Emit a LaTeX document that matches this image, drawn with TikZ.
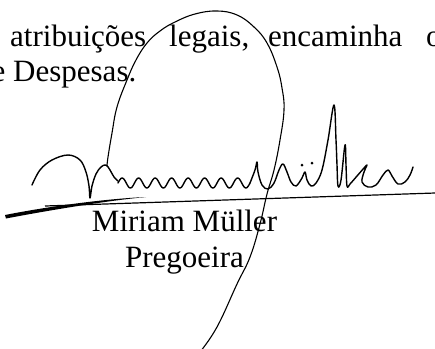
\documentclass[tikz,border=0pt]{standalone}
\usepackage{fontspec}
\setmainfont{Liberation Serif}
\begin{document}
\begin{tikzpicture}[x=1bp,y=-1bp,
  doc/.style={inner sep=0pt,font=\fontsize{31bp}{35bp}\selectfont},
  pen/.style={black,line width=1.4bp,line cap=round,line join=round},
  rubric/.style={black,line width=1.1bp,line cap=round}]
\useasboundingbox (0,0) rectangle (435,348);
\fill [white] (0,0) rectangle (435,348);
\node [doc,anchor=base west] (atrib) at (10,46) {atribuições};
\node [doc,anchor=base west] (legais) at (169,46) {legais,};
\node [doc,anchor=base west] (encam) at (268,46) {encaminha};
\node [doc,anchor=base west] (o) at (426,46) {o};
\node [doc,anchor=base west] (desp) at (-8.5,81) {e Despesas.};
\node [doc,anchor=base] (nome) at (184.5,231) {Miriam Müller};
\node [doc,anchor=base] (cargo) at (184.5,267) {Pregoeira};
\fill [black] (5,215) .. controls (40,208) and (100,199) .. (146,197) .. controls (100,201.5) and (40,212) .. (6,218.5) -- cycle;
\draw [black,line width=1.2bp] (45,206) -- (435,193);
\draw [pen] plot [smooth,tension=0.6] coordinates {(32,185) (40,170) (52,160) (68,155) (80,160) (86,172) (89,186) (90,198) (92,186) (96,174) (101,167) (106,165) (110,170) (114,177) (118,181)};
\draw [pen] plot [domain=0:132,samples=140] ({118+\x},{183-5*sin(21.818*\x)});
\draw [pen] plot [smooth,tension=0.6] coordinates {(250,183) (255,170) (257,162) (258,172) (262,185) (268,189) (274,183) (279,170) (283,164) (287,172) (291,182) (296,186) (302,178) (305,172) (307,180) (311,186) (316,183) (322,170) (328,140) (334,105) (336,140) (337,165) (338,186) (341,180) (345,145) (346,165) (347,186) (350,184) (357,176) (364,168) (367,165) (364,172) (362,182) (368,187) (376,185) (383,175) (388,170) (392,176) (398,184) (405,182) (410,175) (413,167)};
\fill [black] (302,165) circle (1.5);
\fill [black] (312,163) circle (1.5);
\draw [rubric] plot [smooth,tension=0.7] coordinates {(200,352) (217,327) (237,284) (250,257) (260,224) (267,194) (274,170) (280,140) (284,110) (282,88) (277,67) (267,43) (254,27) (237,15) (217,11) (195,14) (175,22) (160,31) (147,43) (136,60) (127,80) (117,107) (112,133) (108,157) (107,166)};
\end{tikzpicture}
\end{document}
